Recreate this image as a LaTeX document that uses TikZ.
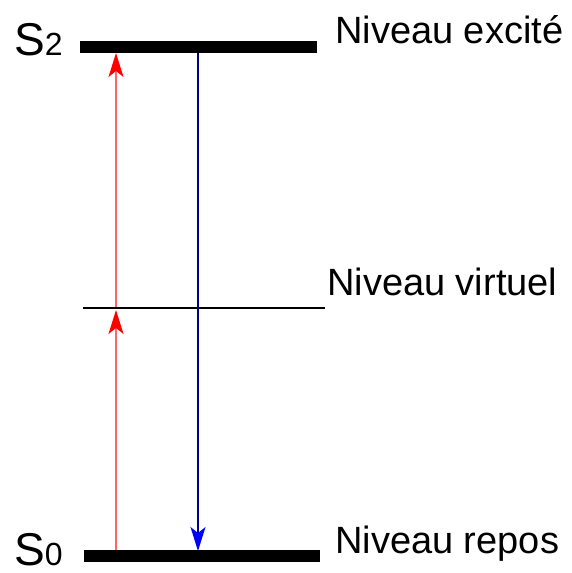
\documentclass[tikz,border=0pt]{standalone}
\usepackage{fontspec}
\setmainfont{Liberation Sans}
\usetikzlibrary{arrows.meta}
\begin{document}
\begin{tikzpicture}[x=1pt,y=-1pt,
  level/.style={line width=12pt},
  vlevel/.style={line width=2.5pt},
  lbl/.style={anchor=base west,inner sep=0pt,font=\fontsize{38}{40}\selectfont},
  slbl/.style={anchor=base west,inner sep=0pt},
  redarr/.style={draw=red!60,line width=1.6pt,-{Stealth[length=24pt,width=15pt,inset=6pt,fill=red,color=red]}},
  bluearr/.style={draw=blue!55!black,line width=1.3pt,-{Stealth[length=24pt,width=15pt,inset=6pt,fill=blue,color=blue]}}]
\useasboundingbox (0,0) rectangle (572,573);
% levels
\coordinate (s2l) at (80,47);  \coordinate (s2r) at (317,47);
\coordinate (vl) at (83,308);  \coordinate (vr) at (325,308);
\coordinate (s0l) at (84,556); \coordinate (s0r) at (320,556);
\draw[level] (s2l) -- (s2r);
\draw[vlevel] (vl) -- (vr);
\draw[level] (s0l) -- (s0r);
% arrow end points
\coordinate (r0) at (116,550);
\coordinate (r1) at (116,310);
\coordinate (r1s) at (116,307);
\coordinate (r2) at (116,53);
\coordinate (b2) at (198,53);
\coordinate (b0) at (198,551);
\draw[redarr] (r0) -- (r1);
\draw[redarr] (r1s) -- (r2);
\draw[bluearr] (b2) -- (b0);
% labels
\node[slbl] (S2) at (14,55) {\fontsize{46}{48}\selectfont S\fontsize{32}{34}\selectfont 2};
\node[slbl] (S0) at (14,565) {\fontsize{46}{48}\selectfont S\fontsize{32}{34}\selectfont 0};
\node[lbl] (ex) at (335,43) {Niveau excité};
\node[lbl] (vi) at (327,295) {Niveau virtuel};
\node[lbl] (re) at (335,553) {Niveau repos};
\end{tikzpicture}
\end{document}
